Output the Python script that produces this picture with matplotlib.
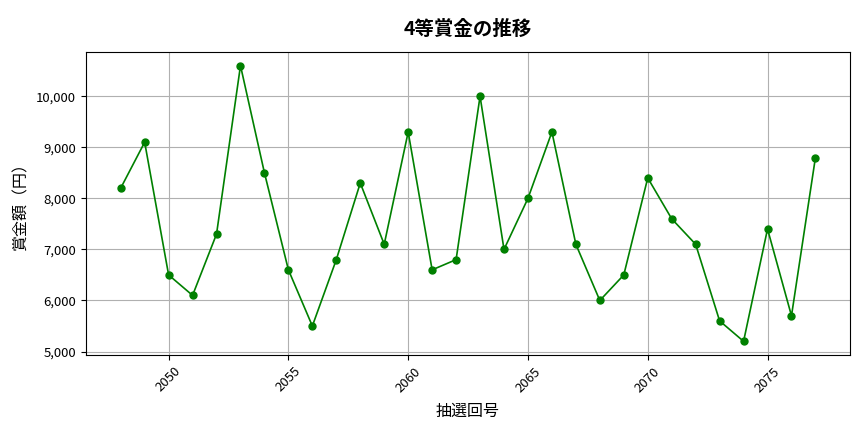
import matplotlib
matplotlib.use("Agg")
import matplotlib.pyplot as plt
from matplotlib.ticker import FuncFormatter

plt.rcParams['font.family'] = ['Noto Sans CJK JP', 'DejaVu Sans']

draws = list(range(2048, 2078))
prizes = [8200, 9100, 6500, 6100, 7300, 10600, 8500, 6600, 5500, 6800,
          8300, 7100, 9300, 6600, 6800, 10000, 7000, 8000, 9300, 7100,
          6000, 6500, 8400, 7600, 7100, 5600, 5200, 7400, 5700, 8800]
title = "4等賞金の推移"
xlabel = "抽選回号"
ylabel = "賞金額（円）"

fig, ax = plt.subplots(figsize=(8.64, 4.32), dpi=100)
fig.subplots_adjust(left=0.0995, right=0.984, top=0.88, bottom=0.178)

ax.plot(draws, prizes, color="green", marker="o", markersize=5, linewidth=1.2)
ax.set_title(title, fontsize=14, fontweight="bold", pad=12)
ax.set_xlabel(xlabel, fontsize=11.5, labelpad=6)
ax.set_ylabel(ylabel, fontsize=11.5, labelpad=5)
ax.yaxis.set_major_formatter(FuncFormatter(lambda v, p: f"{int(v):,}"))
ax.tick_params(axis="both", labelsize=9.5)
plt.setp(ax.get_xticklabels(), rotation=45)
ax.grid(True, color="#b0b0b0", linewidth=0.8)

fig.savefig("out.png", dpi=100)
